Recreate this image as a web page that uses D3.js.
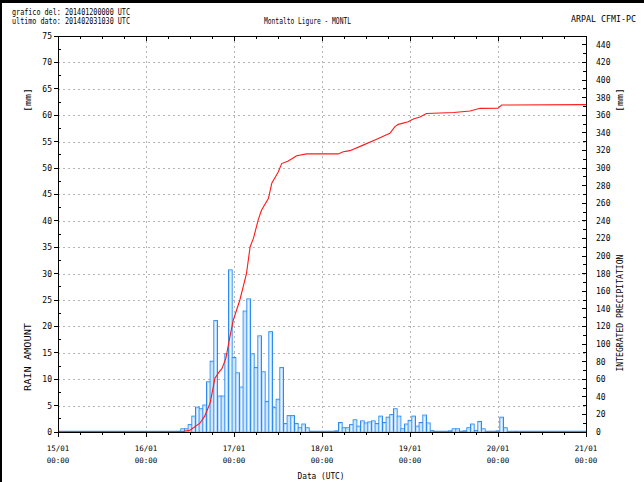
<!DOCTYPE html>
<html><head><meta charset="utf-8">
<script src="https://cdn.jsdelivr.net/npm/d3@7"></script>
<style>body{margin:0;background:#fff}svg{display:block}</style></head>
<body><svg id="c" width="644" height="482"></svg>
<script>
// hourly rain (hours since 15/01 00:00 UTC, bar centred on the hour)
const rainHours = [33,34,35,36,37,38,39,40,41,42,43,44,45,46,47,48,49,50,51,52,53,54,55,56,57,58,59,60,61,62,63,64,65,66,67,68,
  76,77,78,79,80,81,82,83,84,85,86,87,88,89,90,91,92,93,94,95,96,97,98,99,100,101,102,
  107,108,109,111,112,113,114,115,116,120,121,122,125];
const rainValues = [0.1,0.6,0.6,1.4,3.0,4.7,4.4,5.1,9.5,13.4,21.1,6.8,6.8,14.8,30.7,14.1,11.2,8.5,22.9,25.2,14.8,12.2,18.2,11.4,5.8,19.0,4.6,6.2,12.2,1.6,3.1,3.1,1.6,0.8,1.5,0.8,
  0.2,1.8,0.8,0.8,1.4,2.3,1.1,2.1,1.7,1.9,2.1,1.6,3.0,1.8,2.8,3.3,4.4,3.0,0.6,1.5,2.2,3.0,1.1,1.8,3.2,1.7,0.25,
  0.2,0.6,0.6,0.2,0.8,1.5,0.3,2.0,0.6,0.2,2.8,0.8,0.1];
// integrated precipitation
const cumHours = [0,33,34,36,38.7,40,41.5,42.8,43.9,44.7,45.8,46.7,47.8,49.6,51.4,52.4,53.3,54.6,55.5,57.4,58.3,60.1,61,62.8,65.1,67.8,76.4,77.8,79.6,83.2,86.9,90.5,91.9,92.8,95.5,96.9,98.7,100.5,107.9,112.4,115.1,120,121,144];
const cumValues = [0,0,0.5,2,10,18,33,61,68,72,84,104.5,127,150,180,210.6,220,241,252,265.6,282.6,295.8,305,308,314,316,316,318.5,319.7,326,332.6,339.4,347,349.6,352.6,355.7,358,362,363,364.8,367.8,368,371.6,372];
const leftTicks = [0,5,10,15,20,25,30,35,40,45,50,55,60,65,70,75];
const rightTicks = [0,20,40,60,80,100,120,140,160,180,200,220,240,260,280,300,320,340,360,380,400,420,440];
const dayHours = [0,24,48,72,96,120,144];
const dayLabels = ["15/01","16/01","17/01","18/01","19/01","20/01","21/01"];
const timeLabel = "00:00";

const svg = d3.select("#c");
const L = 58, R = 586, T = 36, B = 432;
const x = d3.scaleLinear().domain([0,144]).range([L,R]);
const yL = d3.scaleLinear().domain([0,75]).range([B,T]);
const yR = d3.scaleLinear().domain([0,450]).range([B,T]);
const mono = "'DejaVu Sans Mono', monospace";

svg.append("rect").attr("width",644).attr("height",482).attr("fill","#fff");
svg.append("rect").attr("x",0).attr("y",0).attr("width",644).attr("height",3).attr("fill","#000");
svg.append("rect").attr("x",0).attr("y",0).attr("width",2).attr("height",482).attr("fill","#000");

// grid
const g = svg.append("g");
g.selectAll("line.h").data(leftTicks.filter(v=>v>0&&v<75)).join("line")
  .attr("x1",L).attr("x2",R).attr("y1",d=>Math.round(yL(d))+0.5).attr("y2",d=>Math.round(yL(d))+0.5)
  .attr("stroke","#b4b4b4").attr("stroke-dasharray","2,3");
g.selectAll("line.v").data(dayHours.filter(h=>h>0&&h<144)).join("line")
  .attr("x1",d=>Math.round(x(d))+0.5).attr("x2",d=>Math.round(x(d))+0.5).attr("y1",T).attr("y2",B)
  .attr("stroke","#b4b4b4").attr("stroke-dasharray","2,3");

// bars
const bars = rainHours.map((h,i)=>({h, v: rainValues[i]}));
svg.append("line").attr("x1",L).attr("x2",R).attr("y1",B-0.5).attr("y2",B-0.5).attr("stroke","#3a93f0").attr("stroke-width",1.5);
svg.append("g").selectAll("rect").data(bars).join("rect")
  .attr("x",d=>x(d.h-0.5)).attr("width",d=>x(d.h+0.5)-x(d.h-0.5))
  .attr("y",d=>yL(d.v)).attr("height",d=>yL(0)-yL(d.v))
  .attr("fill","#fff").attr("stroke","#2b8df2").attr("stroke-width",1);
svg.append("g").selectAll("rect").data(bars.filter(d=>yL(0)-yL(d.v)>3)).join("rect")
  .attr("x",d=>x(d.h-0.5)+1).attr("width",d=>x(d.h+0.5)-x(d.h-0.5)-2)
  .attr("y",d=>yL(d.v)+1).attr("height",d=>yL(0)-yL(d.v)-1)
  .attr("fill","none").attr("stroke","#a9d3ff").attr("stroke-width",0.8);

// cumulative line
const line = d3.line().x(d=>x(d[0])).y(d=>yR(d[1]));
svg.append("path").datum(cumHours.map((h,i)=>[h,cumValues[i]]))
  .attr("d",line).attr("fill","none").attr("stroke","#ff1a1a").attr("stroke-width",1.1);

// frame
const ax = svg.append("g").attr("stroke","#000").attr("stroke-width",1).attr("shape-rendering","crispEdges");
ax.append("line").attr("x1",L).attr("x2",R).attr("y1",T).attr("y2",T);
ax.append("line").attr("x1",L).attr("x2",R).attr("y1",B).attr("y2",B);
ax.append("line").attr("x1",L).attr("x2",L).attr("y1",T).attr("y2",B);
ax.append("line").attr("x1",R).attr("x2",R).attr("y1",T).attr("y2",B);

// left axis ticks
const minorL = d3.range(2.5,75,5);
ax.selectAll("line.lt").data(leftTicks).join("line").attr("x1",L-4).attr("x2",L).attr("y1",d=>yL(d)).attr("y2",d=>yL(d));
ax.selectAll("line.lm").data(minorL).join("line").attr("x1",L).attr("x2",L+3).attr("y1",d=>yL(d)).attr("y2",d=>yL(d));
svg.append("g").selectAll("text").data(leftTicks).join("text")
  .attr("x",52).attr("y",d=>yL(d)+3).attr("text-anchor","end")
  .attr("font-family",mono).attr("font-size",8).attr("fill","#000").text(d=>d);

// right axis ticks
const minorR = d3.range(10,450,20);
ax.selectAll("line.rt").data(rightTicks).join("line").attr("x1",R-4).attr("x2",R).attr("y1",d=>yR(d)).attr("y2",d=>yR(d));
ax.selectAll("line.rm").data(minorR).join("line").attr("x1",R-3).attr("x2",R).attr("y1",d=>yR(d)).attr("y2",d=>yR(d));
svg.append("g").selectAll("text").data(rightTicks).join("text")
  .attr("x",596).attr("y",d=>yR(d)+3).attr("text-anchor","start")
  .attr("font-family",mono).attr("font-size",8).attr("fill","#000").text(d=>d);

// time ticks
const sixH = d3.range(0,145,6);
ax.selectAll("line.bt").data(sixH).join("line").attr("x1",d=>x(d)).attr("x2",d=>x(d)).attr("y1",B).attr("y2",d=>B+(d%24===0?5:3));
ax.selectAll("line.tt").data(sixH).join("line").attr("x1",d=>x(d)).attr("x2",d=>x(d)).attr("y1",T).attr("y2",d=>T+(d%24===0?5:3));
const dl = svg.append("g").attr("font-family",mono).attr("font-size",7.5).attr("fill","#000").attr("text-anchor","middle");
dl.selectAll("text.d").data(dayHours).join("text").attr("x",d=>x(d)).attr("y",451).text((d,i)=>dayLabels[i]);
dl.selectAll("text.t").data(dayHours).join("text").attr("x",d=>x(d)).attr("y",463).text(timeLabel);

// titles
const txt = (s,xx,yy,len,opt={}) => {
  const t = svg.append("text").attr("x",xx).attr("y",yy).attr("font-family",opt.f||mono).attr("font-size",opt.s||8)
    .attr("fill","#000").attr("text-anchor",opt.a||"start").text(s);
  if (len) t.attr("textLength",len).attr("lengthAdjust","spacingAndGlyphs");
  if (opt.r) t.attr("transform",`rotate(-90,${xx},${yy})`);
  return t;
};
txt("grafico del: 201401200000 UTC",12,15,118);
txt("ultimo dato: 201402031030 UTC",12,24,118);
txt("Montalto Ligure - MONTL",264,24,87);
txt("ARPAL CFMI-PC",571,22,65);
txt("Data (UTC)",321,479,47,{a:"middle"});
txt("[mm]",31,100,24,{a:"middle",r:true});
txt("RAIN AMOUNT",31,357,68,{a:"middle",r:true});
txt("[mm]",623,100,24,{a:"middle",r:true});
txt("INTEGRATED PRECIPITATION",623,313,117,{a:"middle",r:true});
</script></body></html>
